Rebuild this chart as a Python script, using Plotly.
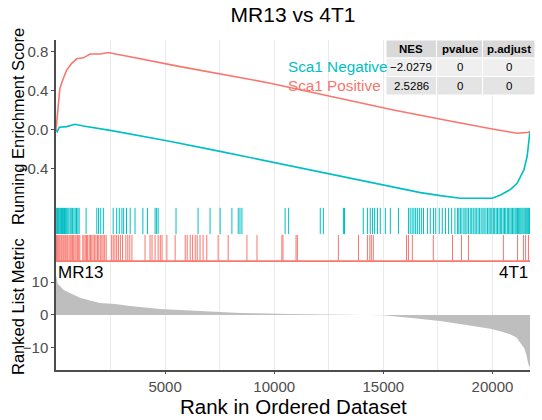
import plotly.graph_objects as go

# ---------------- data ----------------
N_GENES = 21720
set_names = ["Sca1 Negative", "Sca1 Positive"]
set_colors = ["#00BFC4", "#F8766D"]

neg_rank = [0, 60, 150, 490, 870, 1250, 2550, 5080, 7520, 10730, 13700, 16700, 17610,
            18530, 19990, 20370, 20830, 21130, 21440, 21590, 21720]
neg_es = [0.0, -0.017, 0.028, 0.034, 0.058, 0.041, -0.007, -0.11, -0.22, -0.366, -0.50,
          -0.643, -0.674, -0.70, -0.70, -0.667, -0.61, -0.547, -0.41, -0.27, -0.01]

pos_rank = [0, 60, 180, 340, 490, 720, 950, 1250, 1560, 2020, 2400, 2780, 3400, 5690,
            9817, 15460, 16700, 18230, 20050, 21130, 21670, 21720]
pos_es = [0.0, 0.17, 0.43, 0.53, 0.615, 0.684, 0.73, 0.74, 0.78, 0.78, 0.795, 0.777,
          0.752, 0.65, 0.48, 0.205, 0.154, 0.085, 0.007, -0.034, -0.024, -0.01]

neg_hits = [30, 70, 110, 150, 200, 250, 300, 340, 390, 440, 490, 540, 590, 650, 700, 760,
            820, 880, 940, 1000, 1060, 1380, 1870, 1950, 2050, 2170, 2620, 2780, 2900, 3020,
            3100, 3230, 3400, 3620, 3980, 4190, 4540, 4610, 4680, 5500, 6510, 7060, 7520,
            8060, 8350, 8430, 8520, 10500, 10660, 12110, 12250, 13170, 13220, 14080, 14270,
            14400, 14500, 14600, 14730, 14860, 15090, 15320, 15690, 16150, 16230, 16320,
            16400, 16480, 16560, 16650, 16740, 16840, 17020, 17150, 17300, 17400, 17560,
            17700, 17850, 17990, 18130, 18280, 18400, 18460, 18530, 18600, 18690, 18750,
            18830, 18900, 18980, 19050, 19120, 19200, 19260, 19340, 19410, 19480, 19560,
            19620, 19700, 19770, 19840, 19900, 19970, 20040, 20100, 20170, 20230, 20300,
            20360, 20420, 20490, 20550, 20610, 20680, 20740, 20800, 20860, 20920, 20980,
            21040, 21090, 21150, 21200, 21250, 21300, 21350, 21400, 21450, 21500, 21540,
            21580, 21620, 21660, 21700]

pos_hits = [20, 60, 100, 140, 180, 230, 270, 320, 360, 410, 450, 500, 540, 600, 650, 700,
            760, 810, 870, 920, 980, 1040, 1090, 1230, 1280, 1340, 1400, 1450, 1520, 1580,
            1640, 1700, 1770, 1830, 1900, 1960, 2030, 2100, 2160, 2230, 2300, 2550, 2620,
            2700, 2780, 2860, 2950, 3050, 3200, 3290, 3380, 3480, 4080, 4310, 4400, 4540,
            4680, 4780, 4860, 5080, 5460, 5920, 6010, 6150, 6260, 6380, 6470, 6600, 6740,
            6910, 7430, 7890, 8750, 9210, 10350, 10400, 11000, 11060, 12940, 13860, 14270,
            14380, 14450, 14540, 16060, 16150, 16330, 17290, 18170, 18580, 18900, 20500,
            21150, 21420, 21520, 21650]

metric_rank = [0, 30, 80, 180, 350, 640, 1100, 1600, 2020, 2700, 3400, 4770, 6600, 8440,
               10700, 13000, 15000, 16300, 17600, 18800, 19900, 20400, 20800, 21100, 21300,
               21450, 21550, 21650, 21720]
metric_val = [12.0, 10.6, 9.5, 8.8, 7.6, 6.7, 5.2, 4.3, 3.6, 3.3, 2.7, 1.8, 1.2, 0.6, 0.3,
              0.1, -0.1, -0.9, -1.8, -3.0, -4.2, -5.0, -5.8, -6.8, -8.5, -10.0, -12.0,
              -15.0, -16.0]

x_ticks = [5000, 10000, 15000, 20000]
x_tick_text = ["5000", "10000", "15000", "20000"]
es_ticks = [0.8, 0.4, 0.0, -0.4]
es_tick_text = ["0.8", "0.4", "0.0", "\u22120.4"]
metric_ticks = [10, 0, -10]
metric_tick_text = ["10", "0", "\u221210"]

table_header = ["NES", "pvalue", "p.adjust"]
table_rows = [["\u22122.0279", "0", "0"], ["2.5286", "0", "0"]]

# ---------------- layout helpers (pixel -> paper) ----------------
L, R, T, B, W, H = 56, 7, 40, 50, 542, 420
PW, PH = W - L - R, H - T - B


def pxx(px):
    return (px - L) / PW


def pxy(py):
    return (H - B - py) / PH


FONT = "Liberation Sans, Arial, sans-serif"
AXC = "#4d4d4d"
GRID = "#ebebeb"
fig = go.Figure()

# running ES curves
fig.add_trace(go.Scatter(x=neg_rank, y=neg_es, mode="lines",
                         line=dict(color=set_colors[0], width=1.6),
                         xaxis="x", yaxis="y", showlegend=False))
fig.add_trace(go.Scatter(x=pos_rank, y=pos_es, mode="lines",
                         line=dict(color=set_colors[1], width=1.6),
                         xaxis="x", yaxis="y", showlegend=False))


def rug(hits, lo, hi):
    xs, ys = [], []
    for h in hits:
        xs += [h, h, None]
        ys += [lo, hi, None]
    return xs, ys


nx, ny = rug(neg_hits, 0.49, 0.95)
px_, py_ = rug(pos_hits, 0.02, 0.475)
fig.add_trace(go.Scatter(x=nx, y=ny, mode="lines", line=dict(color=set_colors[0], width=1),
                         xaxis="x2", yaxis="y2", showlegend=False))
fig.add_trace(go.Scatter(x=px_, y=py_, mode="lines", line=dict(color=set_colors[1], width=1),
                         xaxis="x2", yaxis="y2", showlegend=False))
fig.add_trace(go.Scatter(x=[0, N_GENES], y=[0.015, 0.015], mode="lines",
                         line=dict(color=set_colors[1], width=2),
                         xaxis="x2", yaxis="y2", showlegend=False))

# ranked list metric
fig.add_trace(go.Scatter(x=metric_rank, y=metric_val, mode="lines", fill="tozeroy",
                         fillcolor="#bebebe", line=dict(width=0, color="#bebebe"),
                         xaxis="x3", yaxis="y3", showlegend=False))

xdom = [0, 474 / PW]
xcommon = dict(range=[0, N_GENES], domain=xdom, showgrid=True, gridcolor=GRID,
               gridwidth=1, tickvals=x_ticks, ticktext=x_tick_text, zeroline=False,
               minor=dict(dtick=2500, tick0=0, showgrid=True, gridcolor=GRID, gridwidth=1))
ycommon = dict(showline=True, linecolor=AXC, linewidth=1.5, zeroline=False, showgrid=False,
               tickfont=dict(family=FONT, size=15, color=AXC), ticks="outside",
               ticklen=3, tickcolor=AXC)

fig.update_layout(
    width=W, height=H,
    margin=dict(l=L, r=R, t=T, b=B),
    plot_bgcolor="white", paper_bgcolor="white",
    font=dict(family=FONT),
    title=dict(text="MR13 vs 4T1", x=pxx(293), xref="paper", xanchor="center",
               y=1 - 15 / H, yanchor="middle",
               font=dict(family=FONT, size=21, color="black")),
    xaxis=dict(xcommon, anchor="y", showticklabels=False, matches="x3"),
    xaxis2=dict(xcommon, anchor="y2", showticklabels=False, matches="x3"),
    xaxis3=dict(xcommon, anchor="y3", showticklabels=True, showline=True, linecolor=AXC,
                linewidth=1.5, ticks="outside", ticklen=2, tickcolor=AXC,
                tickfont=dict(family=FONT, size=15, color=AXC)),
    yaxis=dict(ycommon, domain=[pxy(205), 1.0], range=[-0.77, 0.923],
               tickvals=es_ticks, ticktext=es_tick_text),
    yaxis2=dict(showline=True, linecolor=AXC, linewidth=1.5, zeroline=False, showgrid=False,
                domain=[pxy(262), pxy(205)], range=[0, 1], showticklabels=False, ticks=""),
    yaxis3=dict(ycommon, domain=[0, pxy(262)], range=[-16.67, 16.06],
                tickvals=metric_ticks, ticktext=metric_tick_text),
)

ann = []
ann.append(dict(text="Running Enrichment Score", x=pxx(18), xref="paper",
                y=pxy(127), yref="paper", textangle=-90, showarrow=False,
                xanchor="center", yanchor="middle",
                font=dict(family=FONT, size=16.5, color="black")))
ann.append(dict(text="Ranked List Metric", x=pxx(18), xref="paper",
                y=pxy(307), yref="paper", textangle=-90, showarrow=False,
                xanchor="center", yanchor="middle",
                font=dict(family=FONT, size=16.5, color="black")))
ann.append(dict(text="Rank in Ordered Dataset", x=pxx(293), xref="paper",
                y=pxy(406), yref="paper", showarrow=False,
                xanchor="center", yanchor="middle",
                font=dict(family=FONT, size=20.5, color="black")))
ann.append(dict(text="MR13", x=0, xref="x3", y=16.06, yref="y3", showarrow=False,
                xanchor="left", yanchor="top", xshift=0, yshift=1,
                font=dict(family=FONT, size=17, color="black")))
ann.append(dict(text="4T1", x=N_GENES, xref="x3", y=16.06, yref="y3", showarrow=False,
                xanchor="right", yanchor="top", xshift=0, yshift=1,
                font=dict(family=FONT, size=17, color="black")))
for i, (name, col) in enumerate(zip(set_names, set_colors)):
    ann.append(dict(text=name, x=pxx(286), xref="paper",
                    y=pxy(67 + 18 * i), yref="paper", showarrow=False,
                    xanchor="left", yanchor="middle",
                    font=dict(family=FONT, size=15.3, color=col)))

# table built from shapes + text
col_edges = [386, 436.5, 482.5, 535]
row_edges = [40, 58, 76.5, 95]
row_fills = ["#d9d9d9", "#efefef", "#e4e4e4"]
table_text = [table_header] + table_rows
shapes = []
for r in range(3):
    for c in range(3):
        shapes.append(dict(type="rect", xref="paper", yref="paper",
                           x0=pxx(col_edges[c]), x1=pxx(col_edges[c + 1]),
                           y0=pxy(row_edges[r]), y1=pxy(row_edges[r + 1]),
                           fillcolor=row_fills[r], line=dict(color="white", width=1),
                           layer="above"))
        txt = table_text[r][c]
        if r == 0:
            txt = "<b>%s</b>" % txt
        ann.append(dict(text=txt, xref="paper", yref="paper",
                        x=pxx((col_edges[c] + col_edges[c + 1]) / 2),
                        y=pxy((row_edges[r] + row_edges[r + 1]) / 2),
                        showarrow=False, xanchor="center", yanchor="middle",
                        font=dict(family=FONT, size=11.5, color="black")))

fig.update_layout(annotations=ann, shapes=shapes)

fig.write_html("out.html")
